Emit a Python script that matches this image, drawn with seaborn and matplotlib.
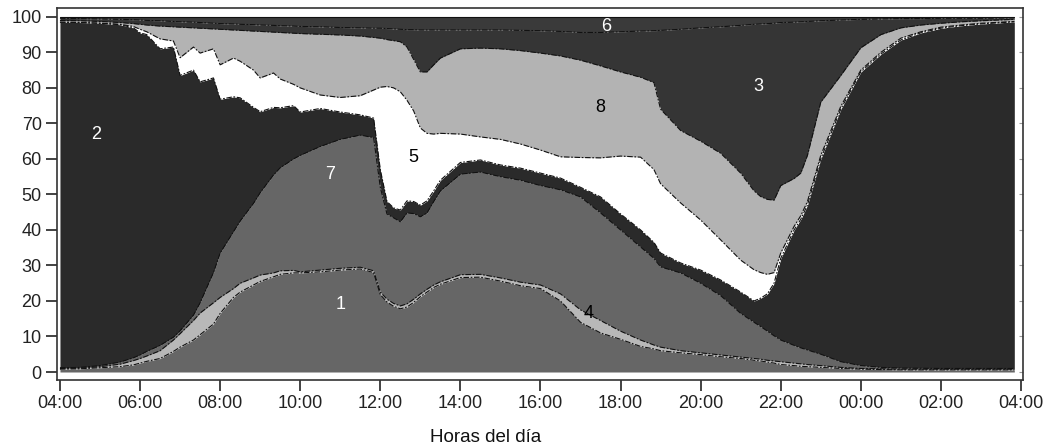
import numpy as np
import matplotlib
matplotlib.use('Agg')
import matplotlib.pyplot as plt
import seaborn as sns

# minutos transcurridos desde las 04:00
minutos = [0, 30, 60, 90, 110, 120, 130, 150, 170, 180,
           200, 210, 230, 240, 260, 270, 290, 300, 320, 330,
           350, 360, 390, 420, 450, 470, 480, 490, 500, 510,
           520, 530, 540, 550, 560, 570, 600, 630, 660, 690,
           720, 750, 780, 810, 840, 870, 890, 900, 930, 960,
           990, 1020, 1040, 1050, 1060, 1070, 1080, 1100, 1110, 1120,
           1140, 1170, 1200, 1230, 1260, 1290, 1320, 1350, 1380, 1430]

# porcentaje acumulado (borde superior de cada actividad, de abajo arriba)
techo_1 = [0.8, 0.9, 1.2, 1.5, 2.0, 2.5, 3.0, 3.8, 5.8, 7.0,
           9.0, 10.5, 13.5, 16.5, 21.0, 22.5, 24.5, 25.5, 26.8, 27.5,
           27.9, 27.9, 28.2, 28.7, 29.0, 28.0, 21.8, 19.7, 18.5, 17.8,
           18.3, 19.6, 21.2, 22.5, 23.8, 24.7, 26.6, 26.7, 25.6, 24.3,
           23.5, 20.0, 14.0, 11.0, 9.2, 7.2, 6.5, 6.0, 5.4, 4.9,
           4.3, 3.8, 3.3, 3.1, 2.8, 2.5, 2.1, 1.8, 1.6, 1.5,
           1.3, 1.0, 0.8, 0.7, 0.6, 0.6, 0.6, 0.6, 0.6, 0.6]
techo_4 = [1.0, 1.1, 1.5, 2.2, 3.2, 3.8, 4.5, 6.0, 9.0, 10.8,
           14.5, 16.6, 19.5, 21.0, 23.5, 25.0, 26.5, 27.3, 27.9, 28.5,
           28.6, 28.2, 28.7, 29.2, 29.5, 28.5, 22.5, 20.5, 19.3, 18.6,
           19.2, 20.5, 22.0, 23.3, 24.5, 25.4, 27.4, 27.5, 26.5, 25.3,
           24.5, 22.0, 17.5, 14.5, 11.5, 9.0, 7.6, 7.0, 6.0, 5.4,
           4.8, 4.2, 3.8, 3.6, 3.3, 3.1, 2.9, 2.5, 2.3, 2.1,
           1.8, 1.3, 1.0, 0.9, 0.8, 0.8, 0.8, 0.8, 0.8, 0.8]
techo_7 = [1.2, 1.3, 1.8, 2.8, 4.0, 4.8, 5.8, 7.5, 9.8, 11.6,
           16.0, 19.5, 28.0, 33.5, 39.5, 42.5, 47.5, 50.5, 55.5, 57.5,
           60.0, 61.0, 63.5, 65.5, 66.7, 66.0, 52.0, 44.5, 43.4, 42.3,
           44.8, 44.6, 43.7, 44.8, 48.0, 51.0, 55.7, 56.3, 55.0, 54.0,
           52.5, 51.3, 49.3, 44.8, 40.0, 35.2, 32.0, 29.6, 27.9, 25.0,
           21.5, 16.5, 14.0, 12.8, 11.5, 10.2, 9.0, 7.5, 6.8, 6.2,
           5.0, 2.9, 1.8, 1.3, 1.1, 1.05, 1.0, 1.0, 1.0, 1.0]
techo_2 = [98.5, 98.4, 98.2, 97.8, 96.9, 95.5, 95.0, 91.0, 91.5, 83.5,
           85.0, 81.7, 82.8, 76.8, 77.5, 77.2, 74.5, 73.3, 74.5, 74.4,
           75.0, 73.2, 74.2, 73.2, 72.4, 71.5, 57.0, 48.0, 46.2, 45.6,
           48.2, 48.0, 47.0, 48.2, 51.0, 54.0, 59.0, 59.7, 58.3, 57.4,
           56.0, 54.6, 52.0, 49.3, 44.5, 40.0, 36.5, 33.5, 30.7, 28.7,
           25.9, 22.5, 20.0, 20.8, 22.0, 25.0, 32.0, 40.0, 43.0, 47.0,
           60.0, 74.0, 84.5, 89.5, 93.5, 95.5, 96.8, 97.5, 98.0, 98.6]
techo_5 = [98.5, 98.4, 98.2, 97.9, 97.3, 96.5, 95.8, 93.8, 93.2, 88.5,
           91.5, 89.8, 91.0, 86.5, 88.4, 87.5, 85.0, 82.8, 84.2, 82.5,
           81.0, 80.0, 78.0, 77.3, 77.8, 79.4, 80.2, 80.4, 80.0, 78.9,
           76.5, 73.5, 68.7, 67.2, 67.0, 67.2, 67.0, 66.2, 65.5, 64.2,
           62.5, 60.6, 60.4, 60.3, 60.8, 60.5, 57.0, 53.0, 47.6, 42.8,
           37.2, 31.5, 28.8, 28.0, 27.5, 28.0, 33.5, 41.0, 44.0, 48.0,
           61.0, 74.8, 85.0, 90.0, 94.0, 95.8, 97.1, 97.7, 98.2, 98.7]
techo_8 = [99.0, 98.9, 98.7, 98.4, 98.1, 97.9, 97.7, 97.4, 97.2, 97.1,
           96.9, 96.8, 96.6, 96.5, 96.3, 96.2, 96.0, 95.9, 95.7, 95.6,
           95.4, 95.3, 95.1, 94.9, 94.6, 94.2, 94.0, 93.6, 93.3, 93.0,
           91.5, 88.0, 84.5, 84.5, 86.5, 88.4, 91.0, 91.2, 91.0, 90.5,
           89.8, 89.0, 87.8, 86.2, 84.5, 83.0, 81.5, 74.0, 68.0, 65.0,
           61.6, 56.0, 51.0, 49.4, 48.6, 48.4, 52.5, 54.5, 56.0, 61.0,
           76.0, 83.5, 91.3, 95.0, 96.9, 97.7, 98.2, 98.6, 98.9, 99.3]
techo_3 = [99.6, 99.5, 99.4, 99.3, 99.2, 99.1, 99.0, 98.9, 98.7, 98.6,
           98.5, 98.4, 98.2, 98.1, 98.0, 97.9, 97.8, 97.7, 97.6, 97.5,
           97.4, 97.3, 97.2, 97.0, 96.9, 96.8, 96.8, 96.7, 96.6, 96.5,
           96.4, 96.4, 96.3, 96.3, 96.3, 96.3, 96.3, 96.3, 96.3, 96.2,
           96.1, 95.9, 95.6, 95.6, 95.8, 96.0, 96.1, 96.2, 96.5, 96.9,
           97.2, 97.6, 97.9, 98.0, 98.1, 98.2, 98.4, 98.5, 98.6, 98.7,
           98.9, 99.1, 99.3, 99.4, 99.5, 99.5, 99.6, 99.6, 99.6, 99.7]

actividades = ['1', '4', '7', '2', '5', '8', '3', '6']
colores = ['#666666', '#b8b8b8', '#666666', '#2a2a2a',
           '#ffffff', '#b3b3b3', '#353535', '#3a3a3a']
etiquetas_hora = ['04:00', '06:00', '08:00', '10:00', '12:00', '14:00', '16:00',
                  '18:00', '20:00', '22:00', '00:00', '02:00', '04:00']

sns.set_style('ticks')
plt.rcParams['font.family'] = ['Liberation Sans', 'DejaVu Sans']

horas = np.array(minutos) / 60.0
bordes = [np.zeros(len(horas)), techo_1, techo_4, techo_7, techo_2,
          techo_5, techo_8, techo_3, np.full(len(horas), 100.0)]

fig = plt.figure(figsize=(10.53, 4.48), dpi=100)
ax = fig.add_axes([0.0541, 0.1518, 0.9174, 0.8304])

for i, col in enumerate(colores):
    ax.fill_between(horas, bordes[i], bordes[i + 1], color=col, lw=0, zorder=1)

for b in bordes[1:8]:
    sns.lineplot(x=horas, y=b, ax=ax, color='#111111', lw=0.8,
                 linestyle=(0, (5, 1.5, 1.5, 1.5)), zorder=2)
ax.plot(horas, bordes[8], color='#111111', lw=0.8, zorder=2)

# rótulos de cada actividad
ax.text(0.9, 66.8, '2', color='white', fontsize=13, ha='center', va='center')
ax.text(6.75, 55.5, '7', color='white', fontsize=13, ha='center', va='center')
ax.text(7.0, 18.9, '1', color='white', fontsize=13, ha='center', va='center')
ax.text(8.82, 60.3, '5', color='black', fontsize=13, ha='center', va='center')
ax.text(13.5, 74.4, '8', color='black', fontsize=13, ha='center', va='center')
ax.text(17.45, 80.3, '3', color='white', fontsize=13, ha='center', va='center')
ax.text(13.65, 97.2, '6', color='white', fontsize=13, ha='center', va='center')
ax.text(13.2, 16.6, '4', color='black', fontsize=13, ha='center', va='center')

ax.set_xlim(-0.075, 24.05)
ax.set_ylim(-2.25, 102.5)
ax.set_xticks(np.arange(0, 25, 2))
ax.set_xticklabels(etiquetas_hora)
ax.set_yticks(np.arange(0, 101, 10))
ax.tick_params(axis='both', direction='out', length=8, width=1.2,
               labelsize=13, colors='#222222', pad=3)
for lado in ['left', 'right', 'top', 'bottom']:
    ax.spines[lado].set_color('#333333')
    ax.spines[lado].set_linewidth(1.2)
ax.set_xlabel('')
ax.set_ylabel('')

# marcas pequeñas del lado derecho, hacia dentro
eje_der = ax.secondary_yaxis('right')
eje_der.set_yticks(np.arange(0, 101, 10))
eje_der.tick_params(direction='in', length=3, width=0.8, colors='#999999',
                    labelright=False)
eje_der.spines['right'].set_visible(False)

fig.text(486 / 1053, 1 - 437 / 448, 'Horas del día', ha='center', va='center',
         fontsize=13.5, color='#111111')

fig.savefig('out.png', dpi=100)
